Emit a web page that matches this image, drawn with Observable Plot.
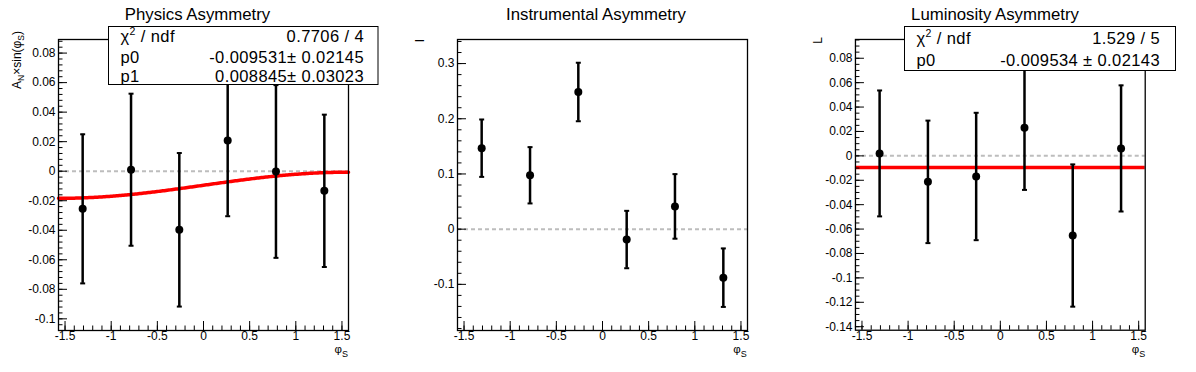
<!DOCTYPE html>
<html><head><meta charset="utf-8">
<script src="https://cdn.jsdelivr.net/npm/d3@7"></script>
<script src="https://cdn.jsdelivr.net/npm/@observablehq/plot@0.6"></script>
<style>
body{margin:0;background:#fff;}
#root{position:relative;width:1196px;height:372px;overflow:hidden;font-family:"Liberation Sans",Arial,Helvetica,sans-serif;background:#fff;}
.pad{position:absolute;top:0;}
#ov{position:absolute;left:0;top:0;pointer-events:none;}
</style></head><body><div id="root"></div>
<script>
// ---- data ----
const phiBins = [-1.309, -0.785, -0.262, 0.262, 0.785, 1.309];
const physVals = [-0.0255, 0.0010, -0.0397, 0.0208, -0.0002, -0.0133];
const physErrs = [0.0505, 0.0515, 0.0520, 0.0513, 0.0585, 0.0516];
const instVals = [0.1467, 0.0976, 0.2485, -0.0188, 0.0412, -0.0879];
const instErrs = [0.0520, 0.0510, 0.0530, 0.0520, 0.0585, 0.0530];
const lumiVals = [0.0020, -0.0213, -0.0169, 0.0230, -0.0653, 0.0061];
const lumiErrs = [0.0516, 0.0502, 0.0522, 0.0509, 0.0583, 0.0517];
const physFit = {p0: -0.009531, p1: 0.008845};
const lumiFit = {p0: -0.009534};
const titles = ["Physics Asymmetry", "Instrumental Asymmetry", "Luminosity Asymmetry"];
const xTickVals = [-1.5, -1, -0.5, 0, 0.5, 1, 1.5];
const xTickLabels = ["-1.5", "-1", "-0.5", "0", "0.5", "1", "1.5"];
const physYTicks = [-0.1, -0.08, -0.06, -0.04, -0.02, 0, 0.02, 0.04, 0.06, 0.08];
const physYLabels = ["-0.1", "-0.08", "-0.06", "-0.04", "-0.02", "0", "0.02", "0.04", "0.06", "0.08"];
const instYTicks = [-0.1, 0, 0.1, 0.2, 0.3];
const instYLabels = ["-0.1", "0", "0.1", "0.2", "0.3"];
const lumiYTicks = [-0.14, -0.12, -0.1, -0.08, -0.06, -0.04, -0.02, 0, 0.02, 0.04, 0.06, 0.08];
const lumiYLabels = ["-0.14", "-0.12", "-0.1", "-0.08", "-0.06", "-0.04", "-0.02", "0", "0.02", "0.04", "0.06", "0.08"];
const physStats = [["χ2 / ndf", "0.7706 / 4"], ["p0", "-0.009531± 0.02145"], ["p1", "0.008845± 0.03023"]];
const lumiStats = [["χ2 / ndf", "1.529 / 5"], ["p0", "-0.009534 ± 0.02143"]];

// ---- layout ----
const FONT = '"Liberation Sans",Arial,Helvetica,sans-serif';
const W = 399, H = 372, ML = 58, MR = 51, MT = 39, MB = 42;
const IW = W - ML - MR, IH = H - MT - MB;
const padLeft = [0, 1196 / 3, 2392 / 3];

const panels = [
  {vals: physVals, errs: physErrs, yDomain: [-0.1079, 0.0892], yTicks: physYTicks, yLabels: physYLabels, minorStep: 0.004, fit: "sin"},
  {vals: instVals, errs: instErrs, yDomain: [-0.1836, 0.3436], yTicks: instYTicks, yLabels: instYLabels, minorStep: 0.02, fit: null},
  {vals: lumiVals, errs: lumiErrs, yDomain: [-0.1429, 0.0954], yTicks: lumiYTicks, yLabels: lumiYLabels, minorStep: 0.005, fit: "const"}
];

const capSymbol = {draw(ctx) { ctx.moveTo(-2.5, 0); ctx.lineTo(2.5, 0); }};
const xMinor = d3.range(-15, 16).map(i => i / 10);

function makePanel(p) {
  const data = phiBins.map((x, k) => ({x, y: p.vals[k], lo: p.vals[k] - p.errs[k], hi: p.vals[k] + p.errs[k]}));
  const [lo, hi] = p.yDomain;
  const yMinor = d3.range(Math.ceil(lo / p.minorStep - 1e-9), Math.floor(hi / p.minorStep + 1e-9) + 1).map(i => i * p.minorStep);
  const marks = [Plot.ruleY([0], {stroke: "#bdbdbd", strokeWidth: 2, strokeDasharray: "4,3"})];
  if (p.fit === "sin") {
    const curve = d3.range(0, 201).map(i => {
      const x = -Math.PI / 2 + Math.PI * i / 200;
      return {x, y: physFit.p0 + physFit.p1 * Math.sin(x)};
    });
    marks.push(Plot.line(curve, {x: "x", y: "y", stroke: "#ff0000", strokeWidth: 3.5}));
  } else if (p.fit === "const") {
    marks.push(Plot.ruleY([lumiFit.p0], {stroke: "#ff0000", strokeWidth: 3.5}));
  }
  marks.push(
    Plot.ruleX(data, {x: "x", y1: "lo", y2: "hi", stroke: "black", strokeWidth: 2.5}),
    Plot.dot(data, {x: "x", y: "lo", symbol: capSymbol, fill: "none", stroke: "black", strokeWidth: 2}),
    Plot.dot(data, {x: "x", y: "hi", symbol: capSymbol, fill: "none", stroke: "black", strokeWidth: 2}),
    Plot.dot(data, {x: "x", y: "y", r: 4, fill: "black", stroke: "none"}),
    Plot.tickY(yMinor, {y: d => d, insetRight: IW - 4.5, stroke: "black", strokeWidth: 1}),
    Plot.tickY(p.yTicks, {y: d => d, insetRight: IW - 9, stroke: "black", strokeWidth: 1}),
    Plot.tickX(xMinor, {x: d => d, insetTop: IH - 4.5, stroke: "black", strokeWidth: 1}),
    Plot.tickX(xTickVals, {x: d => d, insetTop: IH - 9, stroke: "black", strokeWidth: 1}),
    Plot.frame({stroke: "black", strokeWidth: 1.3}),
    Plot.text(p.yTicks.map((v, i) => ({v, label: p.yLabels[i]})), {y: "v", text: "label", frameAnchor: "left", textAnchor: "end", dx: -3, fontSize: 12, fill: "black"}),
    Plot.text(xTickVals.map((v, i) => ({v, label: xTickLabels[i]})), {x: "v", text: "label", frameAnchor: "bottom", lineAnchor: "top", dy: 1, fontSize: 12, fill: "black"})
  );
  return Plot.plot({
    width: W, height: H, marginLeft: ML, marginRight: MR, marginTop: MT, marginBottom: MB,
    x: {domain: [-Math.PI / 2, Math.PI / 2], axis: null},
    y: {domain: p.yDomain, axis: null},
    style: {fontFamily: FONT, background: "transparent", overflow: "visible", color: "black"},
    marks
  });
}

const root = document.getElementById("root");
panels.forEach((p, i) => {
  const div = document.createElement("div");
  div.className = "pad";
  div.style.left = padLeft[i] + "px";
  div.appendChild(makePanel(p));
  root.appendChild(div);
});

// ---- overlay: titles, stats boxes, axis titles ----
const ov = d3.create("svg").attr("id", "ov").attr("width", 1196).attr("height", 372)
  .attr("font-family", FONT).attr("fill", "black");
const titleX = [197.5, 596, 995];
titles.forEach((t, i) => ov.append("text").attr("x", titleX[i]).attr("y", 20).attr("text-anchor", "middle").attr("font-size", 16.8).text(t));

function statsBox(x, y, w, h, rows, left, right, baselines) {
  ov.append("rect").attr("x", x).attr("y", y).attr("width", w).attr("height", h).attr("fill", "white").attr("stroke", "black").attr("stroke-width", 1);
  rows.forEach((r, k) => {
    const t = ov.append("text").attr("x", left).attr("y", baselines[k]).attr("font-size", 16.5).attr("letter-spacing", 0.4);
    if (r[0].startsWith("χ2")) {
      t.append("tspan").text("χ");
      t.append("tspan").attr("dy", -7).attr("font-size", 10.5).text("2");
      t.append("tspan").attr("dy", 7).text(r[0].slice(2));
    } else t.text(r[0]);
    ov.append("text").attr("x", right).attr("y", baselines[k]).attr("text-anchor", "end").attr("font-size", 16.5).attr("letter-spacing", 0.4).text(r[1]);
  });
}
statsBox(108.5, 26.5, 269.5, 58, physStats, 120.5, 364, [42.3, 62.5, 82]);
statsBox(904.5, 26.5, 271, 44, lumiStats, 916.5, 1160, [44, 65.5]);

// y axis titles (rotated)
const yt1 = ov.append("text").attr("transform", "translate(20.5,31) rotate(-90)").attr("text-anchor", "end").attr("font-size", 12);
yt1.append("tspan").text("A");
yt1.append("tspan").attr("dy", 3).attr("font-size", 8.5).text("N");
yt1.append("tspan").attr("dy", -3).text("×sin(φ");
yt1.append("tspan").attr("dy", 3).attr("font-size", 8.5).text("S");
yt1.append("tspan").attr("dy", -3).text(")");
ov.append("text").attr("transform", "translate(423.5,39) rotate(-90)").attr("text-anchor", "end").attr("font-size", 12).text("I");
ov.append("text").attr("transform", "translate(821.5,37) rotate(-90)").attr("text-anchor", "end").attr("font-size", 12).text("L");

// x axis titles
const frameRight = [padLeft[0] + W - MR, padLeft[1] + W - MR, padLeft[2] + W - MR];
frameRight.forEach(xr => {
  const t = ov.append("text").attr("x", xr).attr("y", 353).attr("text-anchor", "end").attr("font-size", 11.5);
  t.append("tspan").text("φ");
  t.append("tspan").attr("dy", 4).attr("font-size", 9).text("S");
});
root.appendChild(ov.node());
</script></body></html>
